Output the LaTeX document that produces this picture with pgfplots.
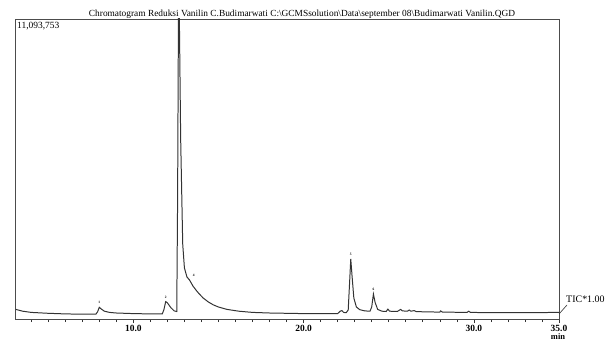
\documentclass[border=0pt]{standalone}
\usepackage{pgfplots}
\pgfplotsset{compat=1.18}
\usepackage{fontspec}
\setmainfont{Liberation Serif}
\begin{document}
\begin{tikzpicture}
\begin{axis}[
  at={(0,0)}, anchor=south west,
  scale only axis, width=544bp, height=300bp,
  xmin=3.05, xmax=35, ymin=0, ymax=100,
  axis line style={draw=black!70, line width=0.9pt},
  xtick={10,20,30,35},
  xticklabels={10.0,20.0,30.0,35.0},
  minor xtick={4,5,...,34},
  xtick pos=bottom, tick align=outside,
  major tick length=4bp, minor tick length=3bp,
  tick style={black!80, line width=0.6pt},
  ytick=\empty,
  xticklabel style={font=\fontsize{9.5}{10}\selectfont\bfseries, yshift=1bp},
  /pgf/number format/assume math mode=true,
  clip=true,
]
\addplot[black!80, line width=1pt] coordinates {
(3.1,3.2) (3.5,2.6) (4.0,2.2) (5.0,1.9) (6.0,1.7) (7.0,1.6) (7.8,1.6)
(7.9,2.4) (8.0,3.9) (8.1,3.4) (8.3,2.6) (8.6,2.2) (9.0,2.0) (10.0,1.8)
(11.0,1.7) (11.7,1.7) (11.8,3.2) (11.9,5.8) (12.0,5.4) (12.2,3.8) (12.4,2.7)
(12.55,2.5) (12.6,40) (12.65,102) (12.7,102) (12.78,60) (12.9,25) (13.0,17)
(13.15,14) (13.3,13) (13.5,11) (13.7,9.5) (13.85,8.5) (14.1,7) (14.4,5.7)
(14.7,4.7) (15.0,4.0) (15.5,3.2) (16.2,2.6) (17.0,2.2) (18.0,2.0) (19.0,1.9)
(20.0,1.8) (21.0,1.8) (22.0,1.8) (22.15,2.6) (22.25,2.8) (22.35,2.2) (22.5,2.1)
(22.62,3) (22.7,12) (22.77,20.0) (22.85,14) (22.95,7) (23.1,4) (23.3,3.1)
(23.6,2.7) (23.9,2.6) (24.0,4.0) (24.1,8.3) (24.2,5.5) (24.35,3.2) (24.6,2.6)
(24.85,2.5) (24.95,3.3) (25.05,2.6) (25.5,2.5) (25.7,3.2) (25.8,2.7) (26.1,2.6)
(26.2,3.0) (26.3,2.6) (26.5,2.8) (26.6,2.5) (27.0,2.4) (28.0,2.3) (28.05,2.7)
(28.15,2.3) (29.6,2.2) (29.7,2.6) (29.8,2.2) (31,2.1) (33,2.1) (35,2.2)
};
\node[font=\fontsize{3.5}{4}\selectfont\bfseries, inner sep=0pt] at (axis cs:8.0,5.4) {1};
\node[font=\fontsize{3.5}{4}\selectfont\bfseries, inner sep=0pt] at (axis cs:11.9,7.3) {2};
\node[font=\fontsize{3.5}{4}\selectfont\bfseries, inner sep=0pt] at (axis cs:13.55,14.5) {4};
\node[font=\fontsize{3.5}{4}\selectfont\bfseries, inner sep=0pt] at (axis cs:22.77,21.5) {5};
\node[font=\fontsize{3.5}{4}\selectfont\bfseries, inner sep=0pt] at (axis cs:24.1,9.8) {6};
\end{axis}
% texts around the axis (axis spans 0..544bp by 0..300bp)
\node[font=\fontsize{9.4}{10}\selectfont, inner sep=0pt] at (287bp,305bp)
  {Chromatogram Reduksi Vanilin C.Budimarwati C:\textbackslash GCMSsolution\textbackslash Data\textbackslash september 08\textbackslash Budimarwati Vanilin.QGD};
\node[font=\fontsize{9.5}{10}\selectfont, anchor=north west, inner sep=0pt] at (2bp,297bp) {11,093,753};
\draw[black!80, line width=0.6pt] (544bp,5bp) -- (552bp,14bp);
\node[font=\fontsize{10}{11}\selectfont, anchor=west, inner sep=0pt] at (551bp,20bp) {TIC*1.00};
\node[font=\fontsize{8.5}{9}\selectfont\bfseries, inner sep=0pt] at (543bp,-18bp) {min};
\useasboundingbox (-15bp,-23bp) rectangle (601bp,319bp);
\end{tikzpicture}
\end{document}
